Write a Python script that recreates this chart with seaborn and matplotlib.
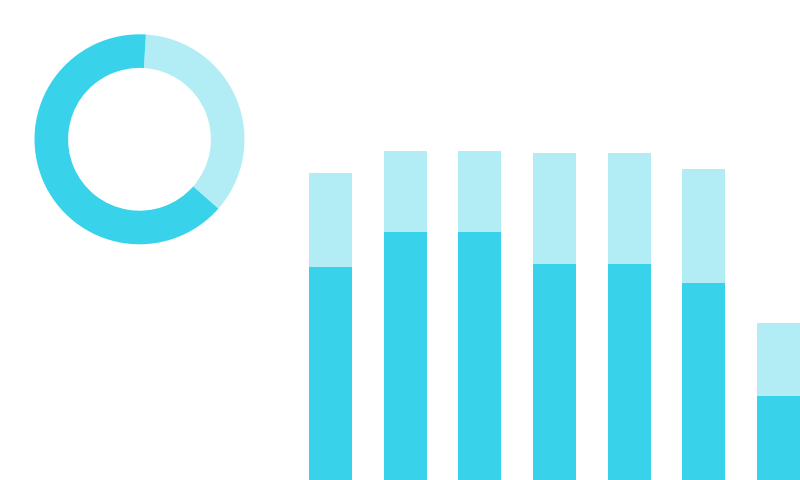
import matplotlib
matplotlib.use("Agg")
import matplotlib.pyplot as plt
import seaborn as sns

# data
categories = ["A", "B", "C", "D", "E", "F", "G"]
dark_vals = [71, 82.8, 82.8, 72, 72, 65.6, 28]
light_vals = [31.2, 26.9, 26.9, 37.1, 37.1, 38.1, 24.2]
donut_vals = [35.5, 64.5]  # light, dark

dark = "#38D3EA"
light = "#B2EDF6"

sns.set_theme(style="white")

fig = plt.figure(figsize=(8, 4.8), dpi=100)

# stacked bars on the right, running to the bottom and right edges
ax = fig.add_axes([293.17 / 800, 0, (800 - 293.17) / 800, 1])
totals = [d + l for d, l in zip(dark_vals, light_vals)]
sns.barplot(x=categories, y=totals, color=light, saturation=1, width=0.576,
            linewidth=0, ax=ax)
sns.barplot(x=categories, y=dark_vals, color=dark, saturation=1, width=0.576,
            linewidth=0, ax=ax)
ax.set_xlim(-0.5, 6.288)
ax.set_ylim(0, 160)
ax.axis("off")
ax.patch.set_alpha(0)

# donut at top left
ax2 = fig.add_axes([34.5 / 800, (480 - 139.3 - 105) / 480, 210 / 800, 210 / 480])
ax2.pie(donut_vals, colors=[light, dark], startangle=86.5, counterclock=False,
        radius=1, wedgeprops=dict(width=0.32, linewidth=0))
ax2.set_xlim(-1, 1)
ax2.set_ylim(-1, 1)
ax2.set_aspect("equal")
ax2.axis("off")

fig.savefig("out.png", dpi=100)
